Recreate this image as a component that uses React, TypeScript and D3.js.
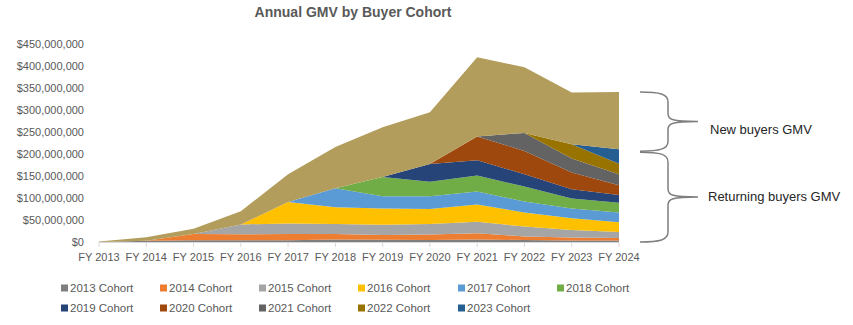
import React from 'react';
import * as d3 from 'd3';

// ---------- data (values in $ millions) ----------
const years = ['FY 2013', 'FY 2014', 'FY 2015', 'FY 2016', 'FY 2017', 'FY 2018', 'FY 2019', 'FY 2020', 'FY 2021', 'FY 2022', 'FY 2023', 'FY 2024'];
const cohorts = ['2013 Cohort', '2014 Cohort', '2015 Cohort', '2016 Cohort', '2017 Cohort', '2018 Cohort', '2019 Cohort', '2020 Cohort', '2021 Cohort', '2022 Cohort', '2023 Cohort'];

const cohort2013 = [0, 3, 4, 4, 4, 5.5, 5, 4.5, 5.5, 4.5, 3.5, 3.5];
const cohort2014 = [0, 0, 14, 13.5, 14, 12.5, 11, 12.5, 14.5, 8, 6.5, 5.5];
const cohort2015 = [0, 0, 0, 22.5, 24, 23, 23, 24, 26, 22.5, 17, 14];
const cohort2016 = [0, 0, 0, 0, 49, 38, 37, 34, 39, 32, 27, 22];
const cohort2017 = [0, 0, 0, 0, 0, 43, 28, 29, 30, 25, 22, 22];
const cohort2018 = [0, 0, 0, 0, 0, 0, 44, 33, 36, 34, 23, 22];
const cohort2019 = [0, 0, 0, 0, 0, 0, 0, 40, 35, 28, 21, 18];
const cohort2020 = [0, 0, 0, 0, 0, 0, 0, 0, 54, 53, 38, 22];
const cohort2021 = [0, 0, 0, 0, 0, 0, 0, 0, 0, 41, 32, 25];
const cohort2022 = [0, 0, 0, 0, 0, 0, 0, 0, 0, 0, 32, 24];
const cohort2023 = [0, 0, 0, 0, 0, 0, 0, 0, 0, 0, 0, 33];
const newBuyers = [1, 8, 12, 30, 63, 94, 113, 118, 180, 149, 118, 130];

const yTicks = [0, 50, 100, 150, 200, 250, 300, 350, 400, 450];

const cohortSeries = [cohort2013, cohort2014, cohort2015, cohort2016, cohort2017, cohort2018, cohort2019, cohort2020, cohort2021, cohort2022, cohort2023];
const colors = ['#7F7F7F', '#ED7D31', '#A5A5A5', '#FFC000', '#5B9BD5', '#70AD47', '#264478', '#9E480E', '#636363', '#997300', '#255E91'];
const newColor = '#B39D5C';

const FONT = "'Liberation Sans', Arial, sans-serif";
const TXT = '#595959';

export default function App() {
  const keys = [...cohorts, 'New buyers'];
  const table = years.map((yr, i) => {
    const row: Record<string, number | string> = { year: yr };
    cohorts.forEach((c, k) => { row[c] = cohortSeries[k][i]; });
    row['New buyers'] = newBuyers[i];
    return row;
  });
  const stacked = d3.stack<any>().keys(keys)(table);

  const x = d3.scalePoint<string>().domain(years).range([99, 619]);
  const y = d3.scaleLinear().domain([0, 450]).range([242, 44]);

  const area = d3.area<any>()
    .x((d) => x(d.data.year) as number)
    .y0((d) => y(d[0]))
    .y1((d) => y(d[1]));

  const fmt = d3.format('$,');
  const allColors = [...colors, newColor];

  const last = years.length - 1;
  const topY = y(stacked[stacked.length - 1][last][1]);
  const midY = y(stacked[stacked.length - 2][last][1]) + 2;
  const botY = y(0);

  const brace = (yT: number, yB: number) => {
    const yM = (yT + yB) / 2;
    const x0 = 640, xv = 668, xt = 698;
    return `M${x0},${yT} C${x0 + 20},${yT} ${xv},${yT + 2} ${xv},${yT + 10} L${xv},${yM - 8} C${xv},${yM - 2} ${xv + 4},${yM} ${xt},${yM} ` +
      `M${xt},${yM} C${xv + 4},${yM} ${xv},${yM + 2} ${xv},${yM + 8} L${xv},${yB - 10} C${xv},${yB - 2} ${x0 + 20},${yB} ${x0},${yB}`;
  };

  const legendCols = [61, 160, 259, 358, 458, 557];
  const legendRows = [288, 308];

  return (
    <svg width={853} height={325} style={{ position: 'absolute', left: 0, top: 0, background: '#fff' }} fontFamily={FONT}>
      <text x={353} y={17} textAnchor="middle" fontSize={14} fontWeight="bold" fill={TXT}>Annual GMV by Buyer Cohort</text>

      {yTicks.map((t) => (
        <text key={t} x={84} y={y(t)} dy="0.35em" textAnchor="end" fontSize={11} fill={TXT}>{fmt(t * 1e6)}</text>
      ))}

      {stacked.map((s, k) => (
        <path key={s.key} d={area(s) as string} fill={allColors[k]} />
      ))}

      <line x1={99} x2={619} y1={242.5} y2={242.5} stroke="#D9D9D9" />
      {years.map((yr) => (
        <line key={yr} x1={(x(yr) as number)} x2={(x(yr) as number)} y1={242} y2={247} stroke="#D9D9D9" />
      ))}
      {years.map((yr) => (
        <text key={yr} x={x(yr)} y={257} dy="0.35em" textAnchor="middle" fontSize={11} fill={TXT}>{yr}</text>
      ))}

      <path d={brace(topY, midY)} fill="none" stroke="#7F7F7F" strokeWidth={1.5} />
      <path d={brace(midY + 1, botY)} fill="none" stroke="#7F7F7F" strokeWidth={1.5} />
      <text x={710} y={(topY + midY) / 2 + 8} dy="0.35em" fontSize={13} fill="#262626">New buyers GMV</text>
      <text x={708} y={(midY + botY) / 2} dy="0.35em" fontSize={13} fill="#262626">Returning buyers GMV</text>

      {cohorts.map((c, k) => {
        const cx = legendCols[k % 6];
        const cy = legendRows[Math.floor(k / 6)];
        return (
          <g key={c}>
            <rect x={cx} y={cy - 3.5} width={7} height={7} fill={colors[k]} />
            <text x={cx + 9} y={cy} dy="0.35em" fontSize={11.5} fill={TXT}>{c}</text>
          </g>
        );
      })}
    </svg>
  );
}
